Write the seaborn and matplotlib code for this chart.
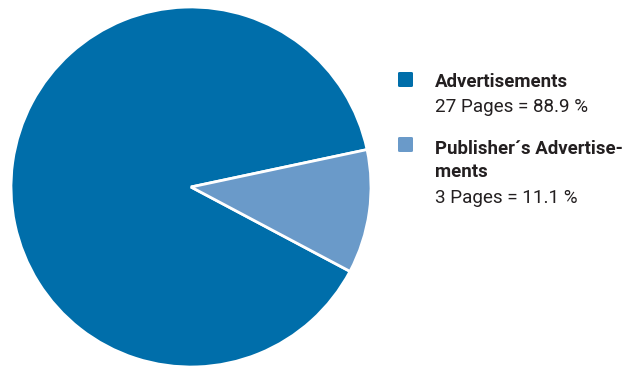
import matplotlib as mpl
mpl.use('Agg')
import matplotlib.pyplot as plt
from matplotlib.patches import FancyBboxPatch
import seaborn as sns

labels = [['Advertisements'], ['Publisher´s Advertise-', 'ments']]
pages = [27, 3]
shares = [88.9, 11.1]
colors = ['#006eaa', '#6a9ac9']

sns.set_theme(style='white')
plt.rcParams['font.family'] = ['Roboto', 'DejaVu Sans']
text_col = '#231f20'

W, H = 630, 366
fig = plt.figure(figsize=(W / 100, H / 100), dpi=100)

def fx(px):
    return px / W

def fy(py):
    return 1 - py / H

# pie, center (191, 187) px, radius 180 px
cx, cy, r = 191, 187, 180
ax = fig.add_axes([fx(cx - r), fy(cy + r), 2 * r / W, 2 * r / H])
ax.pie(shares, colors=colors, startangle=12, counterclock=True, radius=1,
       wedgeprops=dict(edgecolor='white', linewidth=2))
ax.set_xlim(-1, 1)
ax.set_ylim(-1, 1)
ax.set_aspect('auto')
ax.axis('off')

# legend drawn by hand
sq_y = [72, 137]
head_base = [[87], [154, 177]]
sub_base = [112, 203]
for i in range(len(labels)):
    fig.patches.append(FancyBboxPatch((fx(398), fy(sq_y[i] + 15)), fx(15), 15 / H,
                                      boxstyle='round,pad=0,rounding_size=0.003',
                                      transform=fig.transFigure, facecolor=colors[i],
                                      edgecolor='none'))
    for line, yb in zip(labels[i], head_base[i]):
        fig.text(fx(435), fy(yb), line, fontsize=13.4, fontweight='bold',
                 color=text_col, va='baseline', ha='left')
    fig.text(fx(435), fy(sub_base[i]), f'{pages[i]} Pages = {shares[i]:.1f} %',
             fontsize=13.6, fontweight='normal', color=text_col, va='baseline', ha='left')

fig.savefig('out.png', dpi=100)
